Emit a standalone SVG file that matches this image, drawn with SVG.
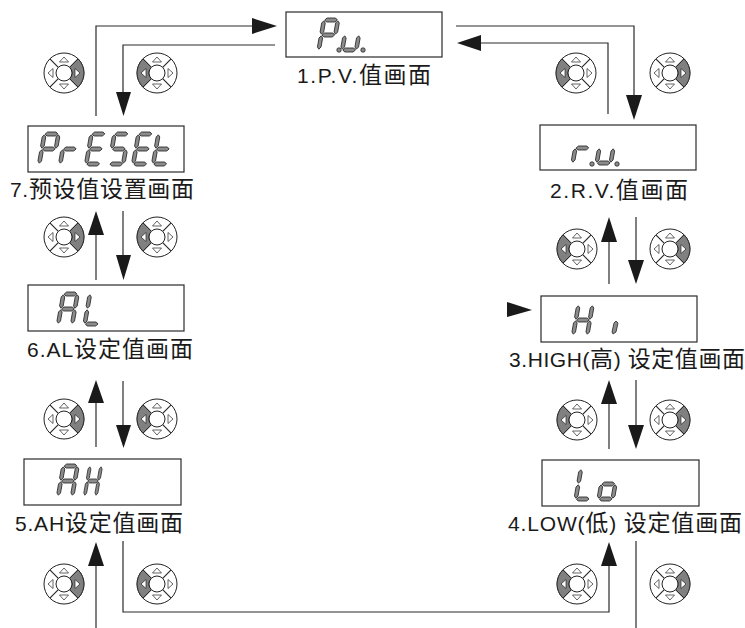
<svg xmlns="http://www.w3.org/2000/svg" width="745" height="628" viewBox="0 0 745 628">
<style>
.box{fill:#fff;stroke:#2a2a2a;stroke-width:1.2}
.line{fill:none;stroke:#2a2a2a;stroke-width:1.2}
.head{fill:#1a1a1a}
.seg{fill:#8c8c8c;stroke:#222;stroke-width:.8}
.lbl{font-family:"Liberation Sans","Noto Sans CJK SC",sans-serif;font-size:21px;fill:#1a1a1a}
.cjk{font-family:"Noto Sans CJK SC","Liberation Sans",sans-serif;font-size:23px}
.padl{fill:#fff;stroke:#222;stroke-width:1}
.g{fill:#808080;stroke:#222;stroke-width:.8}
.tri{fill:#fff;stroke:#222;stroke-width:.7}
</style>
<defs>
<path id="h" class="seg" d="M.7 0L2.800 -2H11.200L13.300 0L11.200 2H2.800Z"/>
<path id="v" class="seg" d="M0 .8L1.800 3V12L0 14.200L-1.800 12V3Z"/>
<g id="dP"><use href="#h"/><use href="#v"/><use href="#v" x="14"/><use href="#h" y="15"/><use href="#v" y="15"/></g>
<g id="dr"><use href="#h" y="15"/><use href="#v" y="15"/></g>
<g id="dE"><use href="#h"/><use href="#v"/><use href="#h" y="15"/><use href="#v" y="15"/><use href="#h" y="30"/></g>
<g id="dS"><use href="#h"/><use href="#v"/><use href="#h" y="15"/><use href="#v" x="14" y="15"/><use href="#h" y="30"/></g>
<g id="dt"><use href="#v"/><use href="#h" y="15"/><use href="#v" y="15"/><use href="#h" y="30"/></g>
<g id="dA"><use href="#h"/><use href="#v"/><use href="#v" x="14"/><use href="#h" y="15"/><use href="#v" y="15"/><use href="#v" x="14" y="15"/></g>
<g id="dL"><use href="#v"/><use href="#v" y="15"/><use href="#h" y="30"/></g>
<g id="dH"><use href="#v"/><use href="#v" x="14"/><use href="#h" y="15"/><use href="#v" y="15"/><use href="#v" x="14" y="15"/></g>
<g id="do"><use href="#h" y="15"/><use href="#v" y="15"/><use href="#v" x="14" y="15"/><use href="#h" y="30"/></g>
<g id="du"><use href="#v" y="15"/><use href="#v" x="14" y="15"/><use href="#h" y="30"/></g>
<g id="pad">
<circle class="padl" r="20"/>
<path class="line" d="M-14.100 -14.100L-5.700 -5.700M14.100 -14.100L5.700 -5.700M-14.100 14.100L-5.700 5.700M14.100 14.100L5.700 5.700"/>
<path class="tri" d="M0 -16L4.500 -11H-4.500ZM0 16L4.500 11H-4.500ZM-16 0L-11 -4.500V4.500ZM16 0L11 -4.500V4.500Z"/>
</g>
<path id="sec" class="g" d="M14.100 -14.100A20 20 0 0 1 14.100 14.100L5.700 5.700A8 8 0 0 0 5.700 -5.700Z"/>
<g id="padR"><use href="#pad"/><use href="#sec"/><path class="tri" d="M16 0L11 -4.500V4.500Z"/><circle r="8" class="padl"/></g>
<g id="padL"><use href="#pad"/><use href="#sec" transform="rotate(180)"/><path class="tri" d="M-16 0L-11 -4.500V4.500Z"/><circle r="8" class="padl"/></g>
</defs>
<g id="connectors">
<path class="line" d="M96 116V26H255"/>
<path class="head" d="M252 18L277 26L252 34Z"/>
<path class="line" d="M275 45H123V95"/>
<path class="head" d="M116 92H131L123.500 116Z"/>
<path class="line" d="M456 26H634V98"/>
<path class="head" d="M626 95H642L634 120Z"/>
<path class="line" d="M608 114V43H478"/>
<path class="head" d="M457 43L481 35V51Z"/>
<path class="line" d="M96 280V232"/><path class="head" d="M88 235H104L96 211Z"/>
<path class="line" d="M123 211V258"/><path class="head" d="M116 255H131L123.500 280Z"/>
<path class="line" d="M96 447V400"/><path class="head" d="M88 403H104L96 380Z"/>
<path class="line" d="M123 381V428"/><path class="head" d="M116 425H131L123.500 448Z"/>
<path class="line" d="M96 628V563"/><path class="head" d="M88 566H104L96 542Z"/>
<path class="line" d="M123 541V612H609V563"/><path class="head" d="M601 566H617L609 542Z"/>
<path class="line" d="M636 541V628"/>
<path class="line" d="M609 284V239"/><path class="head" d="M601 242H617L609 217Z"/>
<path class="line" d="M636 217V263"/><path class="head" d="M628 260H644L636 284Z"/>
<path class="line" d="M609 449V401"/><path class="head" d="M601 404H617L609 380Z"/>
<path class="line" d="M636 380V428"/><path class="head" d="M628 425H644L636 449Z"/>
<path class="head" d="M507 302L532 310L507 317Z"/>
</g>
<g id="pads">
<use href="#padR" x="64" y="73"/><use href="#padL" x="157" y="73"/>
<use href="#padL" x="576" y="73"/><use href="#padR" x="670" y="73"/>
<use href="#padR" x="64" y="237"/><use href="#padL" x="157" y="237"/>
<use href="#padR" x="64" y="419"/><use href="#padL" x="157" y="419"/>
<use href="#padR" x="64" y="584"/><use href="#padL" x="157" y="584"/>
<use href="#padL" x="577" y="249"/><use href="#padR" x="670" y="249"/>
<use href="#padL" x="577" y="420"/><use href="#padR" x="670" y="420"/>
<use href="#padL" x="577" y="584"/><use href="#padR" x="670" y="584"/>
</g>
<g id="node1">
<rect class="box" x="286" y="12" width="156" height="45"/>
<use href="#dP" transform="translate(324 20) skewX(-10)"/>
<use href="#du" transform="translate(347.500 20) skewX(-10)"/>
<circle class="seg" cx="339" cy="50" r="2.200"/><circle class="seg" cx="363" cy="50" r="2.200"/>
<text class="lbl" x="297" y="83" textLength="134">1.P.V.<tspan class="cjk">值画面</tspan></text>
</g>
<g id="node2">
<rect class="box" x="540" y="125" width="156" height="45"/>
<use href="#dr" transform="translate(578 133) skewX(-10)"/>
<use href="#du" transform="translate(602 133) skewX(-10)"/>
<circle class="seg" cx="592" cy="164" r="2.200"/><circle class="seg" cx="617" cy="164" r="2.200"/>
<text class="lbl" x="550" y="198" textLength="138">2.R.V.<tspan class="cjk">值画面</tspan></text>
</g>
<g id="node3">
<rect class="box" x="541" y="296" width="156" height="46"/>
<use href="#dH" transform="translate(578.500 305) skewX(-10)"/>
<path class="seg" d="M616 321L618 323L616 332L613 334L612 332L614 323Z"/>
<text class="lbl" x="509" y="367" textLength="236">3.HIGH(<tspan class="cjk">高</tspan>) <tspan class="cjk">设定值画面</tspan></text>
</g>
<g id="node4">
<rect class="box" x="542" y="460" width="157" height="46"/>
<use href="#dL" transform="translate(581 469) skewX(-10)"/>
<use href="#do" transform="translate(604 469) skewX(-10)"/>
<text class="lbl" x="508" y="531" textLength="234">4.LOW(<tspan class="cjk">低</tspan>) <tspan class="cjk">设定值画面</tspan></text>
</g>
<g id="node5">
<rect class="box" x="24" y="459" width="157" height="46"/>
<use href="#dA" transform="translate(63.500 466) skewX(-10)"/>
<use href="#dH" transform="translate(90 466) skewX(-10) scale(.8 1)"/>
<text class="lbl" x="15" y="531" textLength="168">5.AH<tspan class="cjk">设定值画面</tspan></text>
</g>
<g id="node6">
<rect class="box" x="28" y="285" width="156" height="46"/>
<use href="#dA" transform="translate(63.500 294) skewX(-10)"/>
<use href="#dL" transform="translate(90 294) skewX(-10)"/>
<text class="lbl" x="27" y="357" textLength="166">6.AL<tspan class="cjk">设定值画面</tspan></text>
</g>
<g id="node7">
<rect class="box" x="28" y="126" width="156" height="46"/>
<use href="#dP" transform="translate(44.500 134) skewX(-10)"/>
<use href="#dr" transform="translate(65.500 134) skewX(-10)"/>
<use href="#dE" transform="translate(91.500 134) skewX(-10)"/>
<use href="#dS" transform="translate(114.500 134) skewX(-10)"/>
<use href="#dE" transform="translate(138.500 134) skewX(-10)"/>
<use href="#dt" transform="translate(158.500 134) skewX(-10)"/>
<text class="lbl" x="10" y="197" textLength="184">7.<tspan class="cjk">预设值设置画面</tspan></text>
</g>
</svg>
